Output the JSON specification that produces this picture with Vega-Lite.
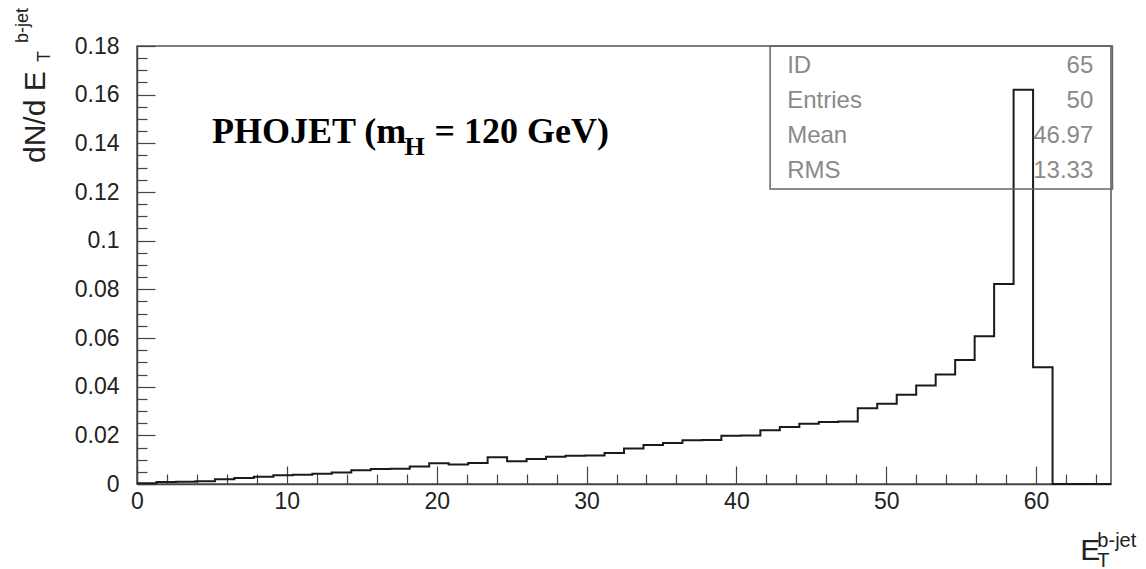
{
  "$schema": "https://vega.github.io/schema/vega-lite/v6.json",
  "width": 974,
  "height": 438,
  "autosize": {"type": "none"},
  "padding": {"left": 137, "top": 46, "right": 35, "bottom": 85},
  "background": "white",
  "config": {
    "view": {"stroke": "#555", "strokeWidth": 1.5},
    "axis": {
      "grid": false,
      "title": null,
      "domainColor": "#444",
      "domainWidth": 1.5,
      "tickColor": "#444",
      "tickWidth": 1.2,
      "labelFont": "Liberation Sans",
      "labelFontSize": 23,
      "labelColor": "#222",
      "labelFlush": false,
      "labelOverlap": false
    }
  },
  "layer": [
    {
      "data": {"values": [
        {"lo": 0, "v": 0.0003}, {"lo": 1.3, "v": 0.0008}, {"lo": 2.6, "v": 0.0009}, {"lo": 3.9, "v": 0.0011},
        {"lo": 5.2, "v": 0.002}, {"lo": 6.5, "v": 0.0025}, {"lo": 7.8, "v": 0.003}, {"lo": 9.1, "v": 0.0036},
        {"lo": 10.4, "v": 0.0038}, {"lo": 11.7, "v": 0.0042}, {"lo": 13, "v": 0.0047}, {"lo": 14.3, "v": 0.0056},
        {"lo": 15.6, "v": 0.0062}, {"lo": 16.9, "v": 0.0063}, {"lo": 18.2, "v": 0.0072}, {"lo": 19.5, "v": 0.0085},
        {"lo": 20.8, "v": 0.008}, {"lo": 22.1, "v": 0.0086}, {"lo": 23.4, "v": 0.011}, {"lo": 24.7, "v": 0.0093},
        {"lo": 26, "v": 0.0103}, {"lo": 27.3, "v": 0.0112}, {"lo": 28.6, "v": 0.0116}, {"lo": 29.9, "v": 0.0117},
        {"lo": 31.2, "v": 0.0127}, {"lo": 32.5, "v": 0.0146}, {"lo": 33.8, "v": 0.016}, {"lo": 35.1, "v": 0.0168},
        {"lo": 36.4, "v": 0.018}, {"lo": 37.7, "v": 0.0181}, {"lo": 39, "v": 0.0198}, {"lo": 40.3, "v": 0.0199},
        {"lo": 41.6, "v": 0.0221}, {"lo": 42.9, "v": 0.0234}, {"lo": 44.2, "v": 0.0248}, {"lo": 45.5, "v": 0.0255},
        {"lo": 46.8, "v": 0.0257}, {"lo": 48.1, "v": 0.0311}, {"lo": 49.4, "v": 0.033}, {"lo": 50.7, "v": 0.0367},
        {"lo": 52, "v": 0.0405}, {"lo": 53.3, "v": 0.045}, {"lo": 54.6, "v": 0.051}, {"lo": 55.9, "v": 0.0607},
        {"lo": 57.2, "v": 0.0822}, {"lo": 58.5, "v": 0.162}, {"lo": 59.8, "v": 0.048}, {"lo": 61.1, "v": 0},
        {"lo": 62.4, "v": 0}, {"lo": 63.7, "v": 0}, {"lo": 65, "v": 0}
      ]},
      "mark": {"type": "line", "interpolate": "step-after", "color": "#1a1a1a", "strokeWidth": 2},
      "encoding": {
        "x": {
          "field": "lo", "type": "quantitative",
          "scale": {"domain": [0, 65], "nice": false, "zero": false},
          "axis": {
            "values": [0,2,4,6,8,10,12,14,16,18,20,22,24,26,28,30,32,34,36,38,40,42,44,46,48,50,52,54,56,58,60,62,64],
            "tickCount": 200,
            "labelExpr": "datum.value % 10 === 0 ? '' + datum.value : ''",
            "labelOverlap": false,
            "tickSize": {"condition": {"test": "datum.value % 10 === 0", "value": -18}, "value": -10},
            "labelPadding": 24
          }
        },
        "y": {
          "field": "v", "type": "quantitative",
          "scale": {"domain": [0, 0.18], "nice": false},
          "axis": {
            "values": [0,0.005,0.01,0.015,0.02,0.025,0.03,0.035,0.04,0.045,0.05,0.055,0.06,0.065,0.07,0.075,0.08,0.085,0.09,0.095,0.1,0.105,0.11,0.115,0.12,0.125,0.13,0.135,0.14,0.145,0.15,0.155,0.16,0.165,0.17,0.175,0.18],
            "tickCount": 200,
            "labelExpr": "abs(round(datum.value*1000)) % 20 === 0 ? format(datum.value, '~g') : ''",
            "labelOverlap": false,
            "tickSize": {"condition": {"test": "abs(round(datum.value*1000)) % 20 === 0", "value": -18}, "value": -10},
            "labelPadding": 36
          }
        }
      }
    },
    {
      "data": {"values": [{}]},
      "mark": {"type": "rect", "fill": null, "stroke": "#666", "strokeWidth": 1.5},
      "encoding": {
        "x": {"datum": 42.25}, "x2": {"datum": 65.1},
        "y": {"datum": 0.18}, "y2": {"datum": 0.1212}
      }
    },
    {
      "data": {"values": [{}]},
      "mark": {"type": "text", "text": ["ID", "Entries", "Mean", "RMS"], "align": "left", "baseline": "alphabetic", "lineHeight": 35, "font": "Liberation Sans", "fontSize": 24, "color": "#8a8a8a"},
      "encoding": {"x": {"datum": 43.39}, "y": {"datum": 0.1687}}
    },
    {
      "data": {"values": [{}]},
      "mark": {"type": "text", "text": ["65", "50", "46.97", "13.33"], "align": "right", "baseline": "alphabetic", "lineHeight": 35, "font": "Liberation Sans", "fontSize": 24, "color": "#8a8a8a"},
      "encoding": {"x": {"datum": 63.82}, "y": {"datum": 0.1687}}
    },
    {
      "data": {"values": [{}]},
      "mark": {"type": "text", "text": "PHOJET (m", "align": "left", "baseline": "alphabetic", "font": "Liberation Serif", "fontWeight": "bold", "fontSize": 36, "color": "black"},
      "encoding": {"x": {"datum": 5.0}, "y": {"datum": 0.140}}
    },
    {
      "data": {"values": [{}]},
      "mark": {"type": "text", "text": "H", "align": "left", "baseline": "alphabetic", "font": "Liberation Serif", "fontWeight": "bold", "fontSize": 26, "color": "black"},
      "encoding": {"x": {"datum": 17.85}, "y": {"datum": 0.1352}}
    },
    {
      "data": {"values": [{}]},
      "mark": {"type": "text", "text": "= 120 GeV)", "align": "left", "baseline": "alphabetic", "font": "Liberation Serif", "fontWeight": "bold", "fontSize": 36, "color": "black"},
      "encoding": {"x": {"datum": 19.85}, "y": {"datum": 0.140}}
    },
    {
      "data": {"values": [{}]},
      "mark": {"type": "text", "text": "dN/d E", "angle": 270, "align": "left", "baseline": "alphabetic", "font": "Liberation Sans", "fontSize": 30, "color": "#222"},
      "encoding": {"x": {"datum": -6.14}, "y": {"datum": 0.1319}}
    },
    {
      "data": {"values": [{}]},
      "mark": {"type": "text", "text": "T", "angle": 270, "align": "left", "baseline": "alphabetic", "font": "Liberation Sans", "fontSize": 18, "color": "#222"},
      "encoding": {"x": {"datum": -5.81}, "y": {"datum": 0.1734}}
    },
    {
      "data": {"values": [{}]},
      "mark": {"type": "text", "text": "b-jet", "angle": 270, "align": "left", "baseline": "alphabetic", "font": "Liberation Sans", "fontSize": 18, "color": "#222"},
      "encoding": {"x": {"datum": -7.28}, "y": {"datum": 0.1812}}
    },
    {
      "data": {"values": [{}]},
      "mark": {"type": "text", "text": "E", "align": "left", "baseline": "alphabetic", "font": "Liberation Sans", "fontSize": 30, "color": "#222"},
      "encoding": {"x": {"datum": 62.95}, "y": {"datum": -0.0312}}
    },
    {
      "data": {"values": [{}]},
      "mark": {"type": "text", "text": "b-jet", "align": "left", "baseline": "alphabetic", "font": "Liberation Sans", "fontSize": 20, "color": "#222"},
      "encoding": {"x": {"datum": 64.09}, "y": {"datum": -0.0259}}
    },
    {
      "data": {"values": [{}]},
      "mark": {"type": "text", "text": "T", "align": "left", "baseline": "alphabetic", "font": "Liberation Sans", "fontSize": 20, "color": "#222"},
      "encoding": {"x": {"datum": 64.09}, "y": {"datum": -0.0341}}
    }
  ]
}
